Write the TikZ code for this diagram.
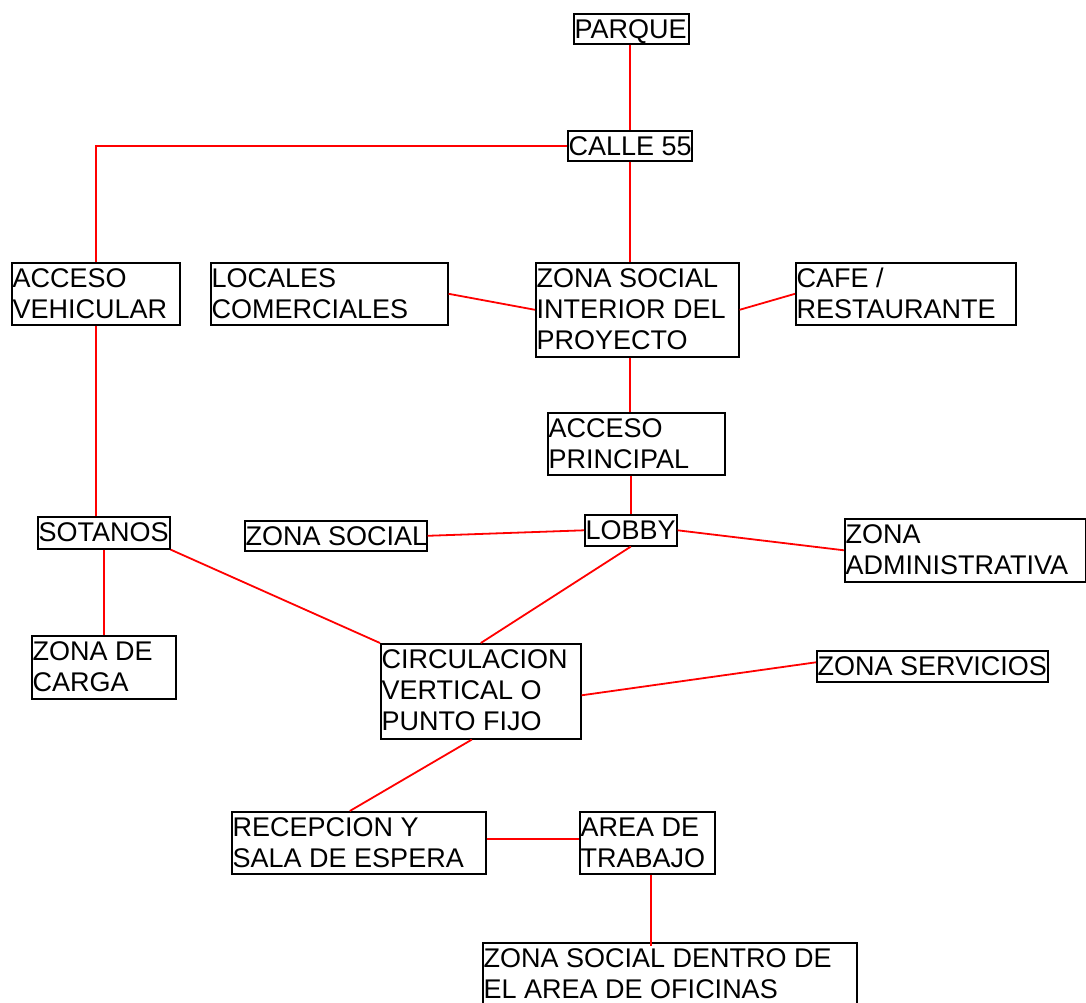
\documentclass[tikz,border=0pt]{standalone}
\usepackage{fontspec}
\setmainfont{Liberation Sans}
\usetikzlibrary{calc}
% strut fixing the first baseline 25pt below the top of each box
\newcommand{\topstrut}{\rule{0pt}{25pt}}
\begin{document}
\begin{tikzpicture}[x=1pt,y=-1pt,
  box/.style={draw=black, line width=1.6pt, rectangle, inner sep=0pt, anchor=north west},
  lbl/.style={anchor=north west, inner xsep=1.5pt, inner ysep=0pt, align=left,
    font=\fontsize{27}{31}\selectfont},
  link/.style={draw=red, line width=1.8pt}]
\clip (0,0) rectangle (1086,1003);
\fill[white] (0,0) rectangle (1086,1003);

% boxes: top-left corner, width, height
\node[box, minimum width=115, minimum height=30] (parque)  at (573,13)  {};
\node[box, minimum width=124, minimum height=30] (calle)   at (567,130) {};
\node[box, minimum width=168, minimum height=62] (accveh)  at (11,262)  {};
\node[box, minimum width=237, minimum height=62] (locales) at (210,262) {};
\node[box, minimum width=203, minimum height=94] (zsi)     at (535,262) {};
\node[box, minimum width=220, minimum height=62] (cafe)    at (795,262) {};
\node[box, minimum width=177, minimum height=62] (accprin) at (547,412) {};
\node[box, minimum width=132, minimum height=32] (sotanos) at (37,516)  {};
\node[box, minimum width=182, minimum height=30] (zsoc)    at (244,520) {};
\node[box, minimum width=92,  minimum height=31] (lobby)   at (584,514) {};
\node[box, minimum width=241, minimum height=63] (admin)   at (844,518) {};
\node[box, minimum width=144, minimum height=63] (carga)   at (31,635)  {};
\node[box, minimum width=200, minimum height=95] (circ)    at (380,643) {};
\node[box, minimum width=231, minimum height=31] (serv)    at (816,650) {};
\node[box, minimum width=254, minimum height=62] (recep)   at (231,811) {};
\node[box, minimum width=135, minimum height=62] (area)    at (579,811) {};
\node[box, minimum width=374, minimum height=64] (dentro)  at (482,942) {};

% texts
\node[lbl] (parque-t)  at (parque.north west)  {\topstrut PARQUE};
\node[lbl] (calle-t)   at (calle.north west)   {\topstrut CALLE 55};
\node[lbl] (accveh-t)  at (accveh.north west)  {\topstrut ACCESO\\VEHICULAR};
\node[lbl] (locales-t) at (locales.north west) {\topstrut LOCALES\\COMERCIALES};
\node[lbl] (zsi-t)     at (zsi.north west)     {\topstrut ZONA SOCIAL\\INTERIOR DEL\\PROYECTO};
\node[lbl] (cafe-t)    at (cafe.north west)    {\topstrut CAFE /\\RESTAURANTE};
\node[lbl] (accprin-t) at (accprin.north west) {\topstrut ACCESO\\PRINCIPAL};
\node[lbl] (sotanos-t) at (sotanos.north west) {\topstrut SOTANOS};
\node[lbl] (zsoc-t)    at (zsoc.north west)    {\topstrut ZONA SOCIAL};
\node[lbl] (lobby-t)   at (lobby.north west)   {\topstrut LOBBY};
\node[lbl] (admin-t)   at (admin.north west)   {\topstrut ZONA\\ADMINISTRATIVA};
\node[lbl] (carga-t)   at (carga.north west)   {\topstrut ZONA DE\\CARGA};
\node[lbl] (circ-t)    at (circ.north west)    {\topstrut CIRCULACION\\VERTICAL O\\PUNTO FIJO};
\node[lbl] (serv-t)    at (serv.north west)    {\topstrut ZONA SERVICIOS};
\node[lbl] (recep-t)   at (recep.north west)   {\topstrut RECEPCION Y\\SALA DE ESPERA};
\node[lbl] (area-t)    at (area.north west)    {\topstrut AREA DE\\TRABAJO};
\node[lbl] (dentro-t)  at (dentro.north west)  {\topstrut ZONA SOCIAL DENTRO DE\\EL AREA DE OFICINAS};

% connectors
\draw[link] (calle.north |- parque.south) -- (calle.north);
\draw[link] (calle.west) -| (accveh.north);
\draw[link] (calle.south) -- (calle.south |- zsi.north);
\draw[link] (locales.east) -- (zsi.west);
\draw[link] (zsi.east) -- (cafe.west);
\draw[link] (calle.south |- zsi.south) -- (calle.south |- accprin.north);
\draw[link] (lobby.north |- accprin.south) -- (lobby.north);
\draw[link] (accveh.south) -- (accveh.south |- sotanos.north);
\draw[link] (sotanos.south) -- (carga.north);
\draw[link] (sotanos.south east) -- (circ.north west);
\draw[link] (lobby.west) -- (zsoc.east);
\draw[link] (lobby.east) -- (admin.west);
\draw[link] (lobby.south) -- (circ.north);
\draw[link] ($(circ.east)+(0,4)$) -- ($(serv.west)+(0,-4)$);
\draw[link] ($(circ.south)+(-9,0)$) -- ($(recep.north)+(-9,0)$);
\draw[link] ($(recep.east)+(0,-4)$) -- ($(area.west)+(0,-4)$);
\draw[link] ($(area.south)+(3.5,0)$) -- ($(area.south |- dentro.north)+(3.5,4)$);
\end{tikzpicture}
\end{document}
